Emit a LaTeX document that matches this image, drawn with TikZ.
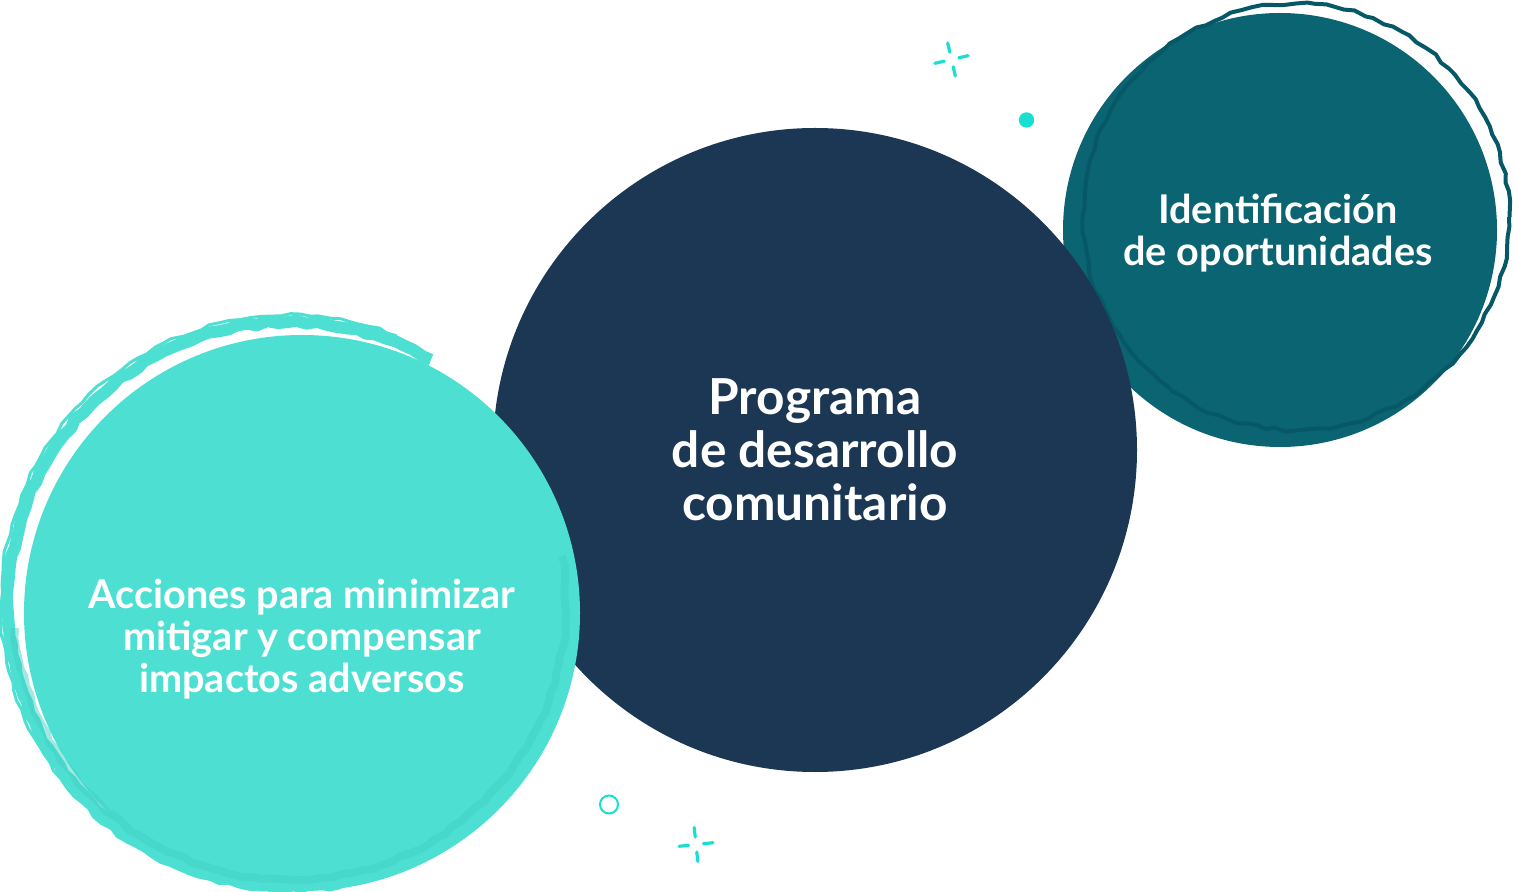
\documentclass[tikz,border=0pt]{standalone}
\usepackage{fontspec}
\setmainfont{Lato}
\usetikzlibrary{calc,decorations.pathmorphing}

\definecolor{navy}{HTML}{1B3754}
\definecolor{petrol}{HTML}{0A6472}
\definecolor{petroldark}{HTML}{075866}
\definecolor{aqua}{HTML}{4DE0D2}
\definecolor{aquadark}{HTML}{45D2C5}
\definecolor{sparkcol}{HTML}{19DFD1}

\tikzset{
  bubble/.style={circle, inner sep=0pt},
  bubbletext/.style={align=center, text=white},
  bigtext/.style={font=\bfseries\fontsize{24.8}{26.5}\selectfont},
  smalltext/.style={font=\bfseries\fontsize{19.8}{21}\selectfont},
  brush/.style={decorate, decoration={random steps, segment length=5pt, amplitude=.8pt},
    line join=round},
  spark/.style={draw=sparkcol, line width=1.6pt, line cap=round},
}

%% four little dashes round a point
\newcommand{\sparkle}[2]{%
  \foreach \a in {0,90,180,270}
    \draw[spark] ($(#1)+(\a+#2:7.5)$) -- ($(#1)+(\a+#2:17)$);
}

\begin{document}
\begin{tikzpicture}[x=.5pt, y=-.5pt]
        \pgfmathsetseed{7}
        \useasboundingbox (0,0) rectangle (1515,892);

        %% top right bubble
        \node (ident) [bubble, fill=petrol, minimum size=217pt] at (1280,230) {};
        \draw[brush, draw=petroldark, line width=2pt] ($(ident)+(16,-13)$) circle (213);
        \node (ident-txt) [bubbletext, smalltext] at ($(ident)+(-2,3)$)
              {Identificación\\de oportunidades};

        %% middle bubble
        \node (programa) [bubble, bubbletext, fill=navy, minimum size=322pt, bigtext] at (815,450)
              {Programa\\de desarrollo\\comunitario};

        %% bottom left bubble
        \draw[brush, draw=aqua, line width=6pt]
              (290,604) ++(-60:282) arc[start angle=-60, end angle=-345, radius=282];
        \draw[brush, draw=aqua, line width=1.5pt]
              (289,603) ++(-68:288) arc[start angle=-68, end angle=-330, radius=288];
        \node (acciones) [bubble, fill=aqua, minimum size=278pt] at (302,613) {};
        \draw[brush, draw=aquadark, line width=4pt, opacity=.5]
              (290,604) ++(175:276) arc[start angle=175, end angle=-10, radius=276];
        \node (acciones-txt) [bubbletext, smalltext] at ($(acciones)+(0,26)$)
              {Acciones para minimizar\\mitigar y compensar\\impactos adversos};

        %% sparkles and dots
        \coordinate (spark-a) at (951.5,59.5);
        \coordinate (spark-b) at (696,844.5);
        \sparkle{spark-a}{-13}
        \sparkle{spark-b}{-6}
        \node (dot) [circle, fill=sparkcol, inner sep=0pt, minimum size=7.7pt] at (1026.5,120) {};
        \node (ring) [circle, draw=sparkcol, line width=1pt, inner sep=0pt, minimum size=9pt] at (609,804.5) {};
\end{tikzpicture}
\end{document}
